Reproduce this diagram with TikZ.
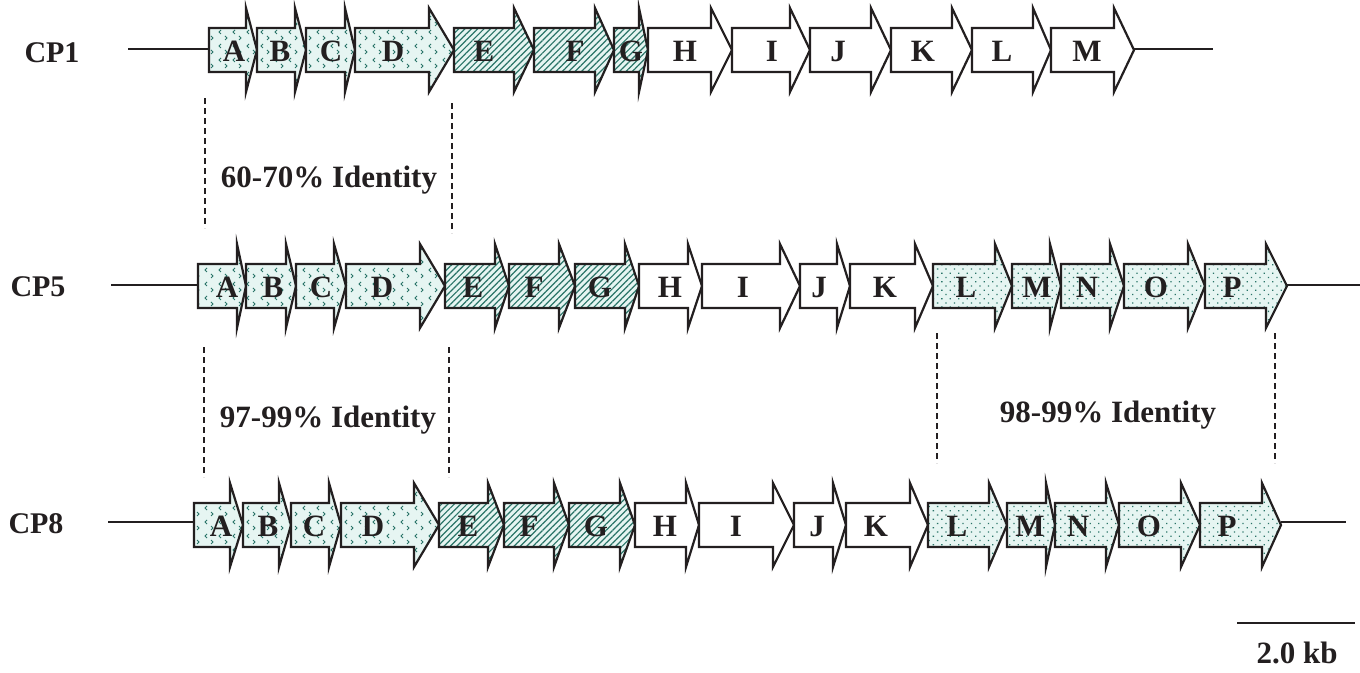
\documentclass[tikz,border=0pt]{standalone}
\usepackage{fontspec}
\setmainfont{Liberation Serif}
\usetikzlibrary{patterns.meta}
\definecolor{ink}{HTML}{231F20}
\definecolor{bgc}{HTML}{E6F5F2}
\definecolor{patc}{HTML}{2A7468}
\tikzdeclarepattern{
  name=chevrons,
  type=uncolored,
  bounding box={(-1pt,-1pt) and (15pt,15pt)},
  tile size={(14pt,14pt)},
  code={
    \draw[line width=1pt] (1pt,2pt) -- (3pt,4pt) -- (1pt,6pt);
    \draw[line width=1pt] (11pt,8pt) -- (9pt,10pt) -- (11pt,12pt);
  }
}
\newcommand\gene[8]{%
  \path[#6] (#3,#2-22) -- (#4,#2-22) -- (#4,#2-42) -- (#5,#2) -- (#4,#2+42) -- (#4,#2+22) -- (#3,#2+22) -- cycle;
  \node[glabel] (#1#7) at (#8,#2+11) {#7};
}
\begin{document}
\begin{tikzpicture}[x=1pt,y=-1pt,
  outline/.style={draw=ink, line width=2.2pt, line join=miter},
  gplain/.style={outline, fill=white},
  gchev/.style={outline, preaction={fill=bgc}, pattern=chevrons, pattern color=patc},
  ghatch/.style={outline, preaction={fill=bgc}, pattern={Lines[angle=45,distance=4.5pt,line width=1.2pt]}, pattern color=patc},
  gdots/.style={outline, preaction={fill=bgc}, pattern={Dots[angle=45,distance=6pt,radius=0.9pt]}, pattern color=patc},
  glabel/.style={inner sep=0pt, anchor=base, text=ink, font=\fontsize{31}{36}\selectfont\bfseries},
  rowlabel/.style={inner sep=0pt, anchor=base, text=ink, font=\fontsize{30}{36}\selectfont\bfseries},
  idlabel/.style={inner sep=0pt, anchor=base, text=ink, font=\fontsize{31}{37}\selectfont\bfseries},
  backbone/.style={draw=ink, line width=2pt},
  dashline/.style={draw=ink, line width=1.5pt, dash pattern=on 6pt off 4pt},
  scalebar/.style={draw=ink, line width=2.5pt}]
\useasboundingbox (0,0) rectangle (1360,672);
\fill[white] (0,0) rectangle (1360,672);

% ---------------- CP1 ----------------
\node[rowlabel] (cp1) at (52,62) {CP1};
\coordinate (cp1l0) at (128,49);
\coordinate (cp1l1) at (209,49);
\coordinate (cp1r0) at (1134,49);
\coordinate (cp1r1) at (1213,49);
\draw[backbone] (cp1l0) -- (cp1l1);
\draw[backbone] (cp1r0) -- (cp1r1);
\gene{cp1}{50}{209}{246}{257}{gchev}{A}{234}
\gene{cp1}{50}{257}{295}{306}{gchev}{B}{280}
\gene{cp1}{50}{306}{345}{355}{gchev}{C}{331}
\gene{cp1}{50}{355}{429}{454}{gchev}{D}{393}
\gene{cp1}{50}{454}{514}{534}{ghatch}{E}{484}
\gene{cp1}{50}{534}{595}{614}{ghatch}{F}{575}
\gene{cp1}{50}{614}{639}{648}{ghatch}{G}{631}
\gene{cp1}{50}{648}{711}{732}{gplain}{H}{685}
\gene{cp1}{50}{732}{790}{810}{gplain}{I}{772}
\gene{cp1}{50}{810}{871}{891}{gplain}{J}{838}
\gene{cp1}{50}{891}{952}{972}{gplain}{K}{923}
\gene{cp1}{50}{972}{1033}{1051}{gplain}{L}{1002}
\gene{cp1}{50}{1051}{1114}{1134}{gplain}{M}{1087}

% ---------------- CP5 ----------------
\node[rowlabel] (cp5) at (38,296) {CP5};
\coordinate (cp5l0) at (111,285);
\coordinate (cp5l1) at (198,285);
\coordinate (cp5r0) at (1287,285);
\coordinate (cp5r1) at (1360,285);
\draw[backbone] (cp5l0) -- (cp5l1);
\draw[backbone] (cp5r0) -- (cp5r1);
\gene{cp5}{286}{198}{237}{246}{gchev}{A}{227}
\gene{cp5}{286}{246}{286}{296}{gchev}{B}{273}
\gene{cp5}{286}{296}{334}{346}{gchev}{C}{321}
\gene{cp5}{286}{346}{420}{445}{gchev}{D}{382}
\gene{cp5}{286}{445}{495}{509}{ghatch}{E}{473}
\gene{cp5}{286}{509}{559}{575}{ghatch}{F}{534}
\gene{cp5}{286}{575}{625}{639}{ghatch}{G}{600}
\gene{cp5}{286}{639}{688}{702}{gplain}{H}{670}
\gene{cp5}{286}{702}{780}{800}{gplain}{I}{743}
\gene{cp5}{286}{800}{837}{850}{gplain}{J}{819}
\gene{cp5}{286}{850}{915}{933}{gplain}{K}{885}
\gene{cp5}{286}{933}{995}{1012}{gdots}{L}{966}
\gene{cp5}{286}{1012}{1050}{1061}{gdots}{M}{1037}
\gene{cp5}{286}{1061}{1110}{1124}{gdots}{N}{1087}
\gene{cp5}{286}{1124}{1188}{1205}{gdots}{O}{1156}
\gene{cp5}{286}{1205}{1266}{1287}{gdots}{P}{1232}

% ---------------- CP8 ----------------
\node[rowlabel] (cp8) at (36,533) {CP8};
\coordinate (cp8l0) at (108,522);
\coordinate (cp8l1) at (194,522);
\coordinate (cp8r0) at (1281,522);
\coordinate (cp8r1) at (1346,522);
\draw[backbone] (cp8l0) -- (cp8l1);
\draw[backbone] (cp8r0) -- (cp8r1);
\gene{cp8}{525}{194}{230}{243}{gchev}{A}{221}
\gene{cp8}{525}{243}{279}{291}{gchev}{B}{268}
\gene{cp8}{525}{291}{329}{341}{gchev}{C}{314}
\gene{cp8}{525}{341}{414}{439}{gchev}{D}{373}
\gene{cp8}{525}{439}{488}{504}{ghatch}{E}{468}
\gene{cp8}{525}{504}{554}{569}{ghatch}{F}{529}
\gene{cp8}{525}{569}{620}{635}{ghatch}{G}{596}
\gene{cp8}{525}{635}{686}{699}{gplain}{H}{665}
\gene{cp8}{525}{699}{773}{794}{gplain}{I}{736}
\gene{cp8}{525}{794}{833}{846}{gplain}{J}{817}
\gene{cp8}{525}{846}{910}{928}{gplain}{K}{876}
\gene{cp8}{525}{928}{989}{1007}{gdots}{L}{957}
\gene{cp8}{525}{1007}{1046}{1055}{gdots}{M}{1030}
\gene{cp8}{525}{1055}{1106}{1119}{gdots}{N}{1078}
\gene{cp8}{525}{1119}{1181}{1200}{gdots}{O}{1149}
\gene{cp8}{525}{1200}{1262}{1281}{gdots}{P}{1227}

% ---------------- identity brackets ----------------
\coordinate (d1a) at (205,98);  \coordinate (d1b) at (205,228);
\coordinate (d2a) at (452,103); \coordinate (d2b) at (452,233);
\draw[dashline] (d1a) -- (d1b);
\draw[dashline] (d2a) -- (d2b);
\node[idlabel] (id1) at (329,187) {60-70\% Identity};

\coordinate (d3a) at (204,347); \coordinate (d3b) at (204,477);
\coordinate (d4a) at (449,347); \coordinate (d4b) at (449,477);
\draw[dashline] (d3a) -- (d3b);
\draw[dashline] (d4a) -- (d4b);
\node[idlabel] (id2) at (328,427) {97-99\% Identity};

\coordinate (d5a) at (937,333);  \coordinate (d5b) at (937,463);
\coordinate (d6a) at (1275,333); \coordinate (d6b) at (1275,463);
\draw[dashline] (d5a) -- (d5b);
\draw[dashline] (d6a) -- (d6b);
\node[idlabel] (id3) at (1108,422) {98-99\% Identity};

% ---------------- scale bar ----------------
\coordinate (sb0) at (1237,623);
\coordinate (sb1) at (1355,623);
\draw[scalebar] (sb0) -- (sb1);
\node[idlabel] (sbl) at (1297,663) {2.0 kb};
\end{tikzpicture}
\end{document}
